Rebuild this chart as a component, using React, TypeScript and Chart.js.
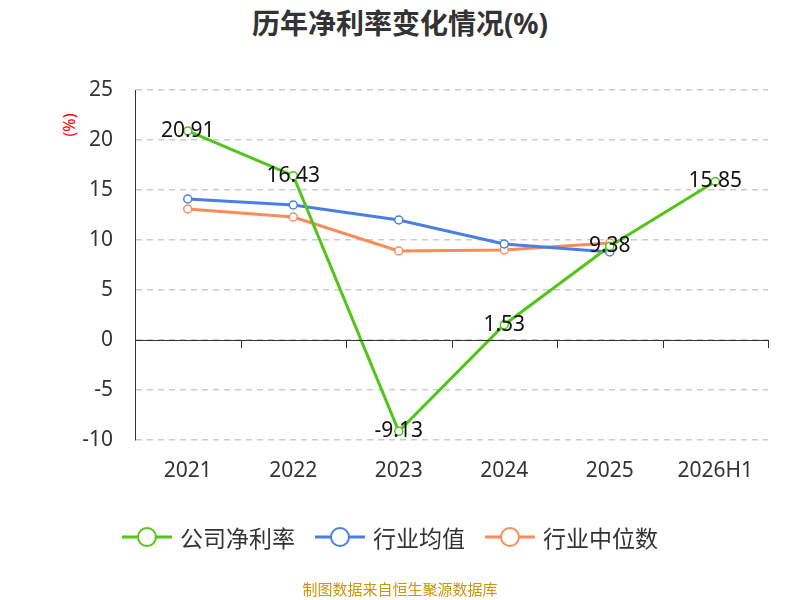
import React, { useEffect, useRef } from "react";
import { Chart, registerables } from "chart.js";
Chart.register(...registerables);

const categories = ["2021", "2022", "2023", "2024", "2025", "2026H1"];
const companyRate = [20.91, 16.43, -9.13, 1.53, 9.38, 15.85];
const industryAvg = [14.1, 13.5, 12.0, 9.6, 8.8, null];
const industryMedian = [13.1, 12.3, 8.9, 9.0, 9.7, null];
const yTicks = [25, 20, 15, 10, 5, 0, -5, -10];

const FONT = "'Noto Sans', 'Noto Sans CJK SC', sans-serif";

const zeroAxisPlugin = {
  id: "zeroAxis",
  afterDatasetsDraw(chart: any) {
    const { ctx, scales, chartArea } = chart;
    const y0 = scales.y.getPixelForValue(0);
    ctx.save();
    ctx.strokeStyle = "#333";
    ctx.lineWidth = 1;
    ctx.beginPath();
    ctx.moveTo(chartArea.left, y0 + 0.5);
    ctx.lineTo(chartArea.right, y0 + 0.5);
    const n = categories.length;
    const w = (chartArea.right - chartArea.left) / n;
    for (let i = 1; i <= n; i++) {
      const x = Math.round(chartArea.left + w * i) + 0.5;
      ctx.moveTo(x, y0);
      ctx.lineTo(x, y0 + 8);
    }
    ctx.stroke();
    const meta = chart.getDatasetMeta(0);
    ctx.fillStyle = "#111";
    ctx.font = "21px " + FONT;
    ctx.textAlign = "center";
    ctx.textBaseline = "middle";
    meta.data.forEach((p: any, i: number) => {
      ctx.fillText(String(companyRate[i]), p.x, p.y);
    });
    ctx.restore();
  },
};

function ds(label: string, data: any[], color: string, order: number) {
  return {
    label,
    data,
    borderColor: color,
    backgroundColor: "#fff",
    pointBackgroundColor: "#fff",
    pointBorderColor: color,
    pointRadius: 4,
    pointBorderWidth: 1.5,
    borderWidth: 3,
    tension: 0,
    order,
  };
}

const legendItems = [
  { label: "公司净利率", color: "#52c41a" },
  { label: "行业均值", color: "#4a7fe0" },
  { label: "行业中位数", color: "#fa8c5a" },
];

export default function App() {
  const ref = useRef<HTMLCanvasElement>(null);
  useEffect(() => {
    const chart = new Chart(ref.current!, {
      type: "line",
      data: {
        labels: categories,
        datasets: [
          ds("公司净利率", companyRate, "#52c41a", 0),
          ds("行业均值", industryAvg, "#4a7fe0", 1),
          ds("行业中位数", industryMedian, "#fa8c5a", 2),
        ],
      },
      options: {
        animation: false,
        responsive: false,
        layout: { padding: { top: 90, bottom: 110, right: 32, left: 0 } },
        plugins: { legend: { display: false }, tooltip: { enabled: false } },
        scales: {
          x: {
            offset: true,
            grid: { display: false },
            border: { display: false },
            ticks: { color: "#333", font: { size: 21, family: FONT }, padding: 10 },
            afterFit(s: any) { s.height = 50; },
          },
          y: {
            min: -10,
            max: 25,
            afterBuildTicks(s: any) { s.ticks = yTicks.map((v) => ({ value: v })); },
            grid: { color: "#ccc", drawTicks: false, lineWidth: 1.5 },
            border: { display: true, color: "#333", width: 1, dash: [6, 5] },
            ticks: { color: "#333", font: { size: 21, family: FONT }, padding: 22 },
            afterFit(s: any) { s.width = 135; },
          },
        },
      },
      plugins: [zeroAxisPlugin, {
        id: "solidYAxis",
        afterDraw(c: any) {
          const { ctx, chartArea } = c;
          ctx.save();
          ctx.strokeStyle = "#333";
          ctx.lineWidth = 1;
          ctx.beginPath();
          ctx.moveTo(chartArea.left + 0.5, chartArea.top);
          ctx.lineTo(chartArea.left + 0.5, chartArea.bottom);
          ctx.stroke();
          ctx.restore();
        },
      }],
    } as any);
    return () => chart.destroy();
  }, []);
  return (
    <div style={{ position: "fixed", left: 0, top: 0, width: 800, height: 600, background: "#fff", fontFamily: FONT }}>
      <div style={{ position: "absolute", top: 2, width: 800, textAlign: "center", fontSize: 28, fontWeight: "bold", color: "#333" }}>
        历年净利率变化情况(%)
      </div>
      <div style={{ position: "absolute", left: 58, top: 114, color: "red", fontSize: 16, transform: "rotate(-90deg)", transformOrigin: "center" }}>
        (%)
      </div>
      <canvas ref={ref} width={800} height={600} style={{ position: "absolute", left: 0, top: 0 }} />
      <div style={{ position: "absolute", top: 520, left: 122, display: "flex", gap: 20, fontSize: 23, color: "#333" }}>
        {legendItems.map((it) => (
          <div key={it.label} style={{ display: "flex", alignItems: "center", gap: 8 }}>
            <svg width="50" height="30">
              <line x1="0" y1="15" x2="50" y2="15" stroke={it.color} strokeWidth="3" />
              <circle cx="25" cy="15" r="9" fill="#fff" stroke={it.color} strokeWidth="2" />
            </svg>
            <span>{it.label}</span>
          </div>
        ))}
      </div>
      <div style={{ position: "absolute", top: 578, width: 800, textAlign: "center", fontSize: 15, color: "#c8960c" }}>
        制图数据来自恒生聚源数据库
      </div>
    </div>
  );
}
